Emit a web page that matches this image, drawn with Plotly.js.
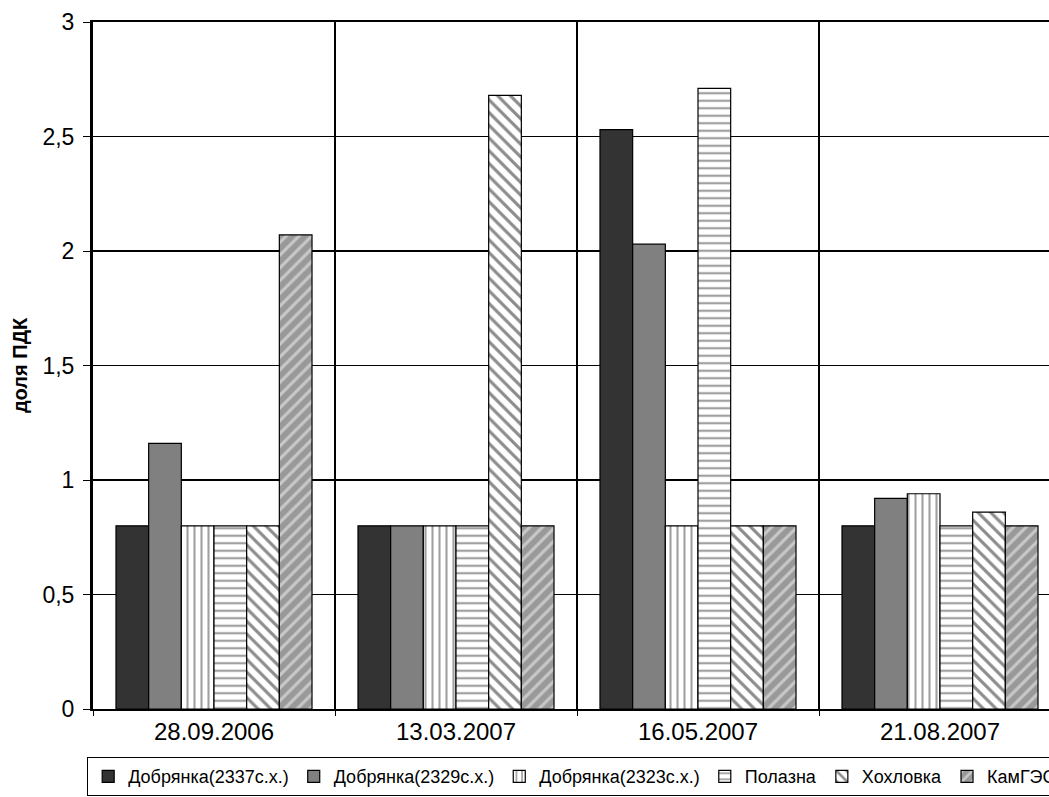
<!DOCTYPE html>
<html>
<head>
<meta charset="utf-8">
<script src="https://cdn.plot.ly/plotly-3.0.1.min.js"></script>
<style>
  html, body { margin: 0; padding: 0; overflow: hidden; background: #fff; }
  #chart { width: 1300px; height: 840px; }
</style>
</head>
<body>
<div id="chart"></div>
<script>
// sampling dates on the category axis
const dates = ['28.09.2006', '13.03.2007', '16.05.2007', '21.08.2007'];

// series (доля ПДК)
const seriesNames = ['Добрянка(2337с.х.)', 'Добрянка(2329с.х.)', 'Добрянка(2323с.х.)', 'Полазна', 'Хохловка', 'КамГЭС'];
const dobryanka2337 = [0.8, 0.8, 2.53, 0.8];
const dobryanka2329 = [1.16, 0.8, 2.03, 0.92];
const dobryanka2323 = [0.8, 0.8, 0.8, 0.94];
const polazna = [0.8, 0.8, 2.71, 0.8];
const khokhlovka = [0.8, 2.68, 0.8, 0.86];
const kamGES = [2.07, 0.8, 0.8, 0.8];

const yTicks = [0, 0.5, 1, 1.5, 2, 2.5, 3];

const font = 'Liberation Sans, Arial, sans-serif';

const seriesValues = [dobryanka2337, dobryanka2329, dobryanka2323, polazna, khokhlovka, kamGES];

// Excel-like black & white fills
const fills = [
  { color: '#333333' },
  { color: '#808080' },
  { color: '#ffffff', pattern: { shape: '|', fgcolor: '#a0a0a0', bgcolor: '#ffffff', size: 7, solidity: 0.3 } },
  { color: '#ffffff', pattern: { shape: '-', fgcolor: '#a0a0a0', bgcolor: '#ffffff', size: 7.5, solidity: 0.3 } },
  { color: '#ffffff', pattern: { shape: '\\', fgcolor: '#8c8c8c', bgcolor: '#ffffff', size: 9, solidity: 0.35 } },
  { color: '#999999', pattern: { shape: '/', fgcolor: '#c8c8c8', bgcolor: '#999999', size: 9, solidity: 0.35 } }
];

const traces = seriesNames.map((name, i) => ({
  type: 'bar',
  name,
  x: dates,
  y: seriesValues[i],
  marker: {
    ...fills[i],
    line: { color: '#000000', width: 1.2 }
  },
  hoverinfo: 'y+name'
}));

// figure is a bit taller/wider than the window so the legend box runs off the edges, as in the original
const layout = {
  width: 1300,
  height: 840,
  margin: { l: 93, r: 239, t: 22, b: 131 },
  paper_bgcolor: '#ffffff',
  plot_bgcolor: '#ffffff',
  separators: ', ',
  font: { family: font, color: '#000000', size: 20 },
  barmode: 'group',
  bargap: 0.19,
  bargroupgap: 0,
  showlegend: true,
  legend: {
    orientation: 'h',
    traceorder: 'normal',
    x: -0.006,
    xanchor: 'left',
    y: -0.07,
    yanchor: 'top',
    bordercolor: '#000000',
    borderwidth: 1,
    font: { family: font, size: 18, color: '#000000' }
  },
  xaxis: {
    type: 'category',
    tickson: 'boundaries',
    showgrid: true,
    gridcolor: '#000000',
    gridwidth: 1.3,
    ticks: 'outside',
    ticklen: 5,
    tickcolor: '#000000',
    showline: true,
    linecolor: '#000000',
    linewidth: 2,
    mirror: true,
    tickfont: { family: font, size: 24, color: '#000000' },
    fixedrange: true
  },
  yaxis: {
    range: [0, 3],
    tickvals: yTicks,
    ticks: 'outside',
    ticklen: 7,
    tickcolor: '#000000',
    ticklabelstandoff: 4,
    showgrid: true,
    gridcolor: '#000000',
    gridwidth: 1.3,
    zeroline: false,
    showline: true,
    linecolor: '#000000',
    linewidth: 3,
    tickfont: { family: font, size: 23, color: '#000000' },
    title: {
      text: 'доля ПДК',
      font: { family: font, size: 20, weight: 'bold', color: '#000000' },
      standoff: 10
    },
    fixedrange: true
  }
};

Plotly.newPlot('chart', traces, layout, { displayModeBar: false, staticPlot: true });
</script>
</body>
</html>
